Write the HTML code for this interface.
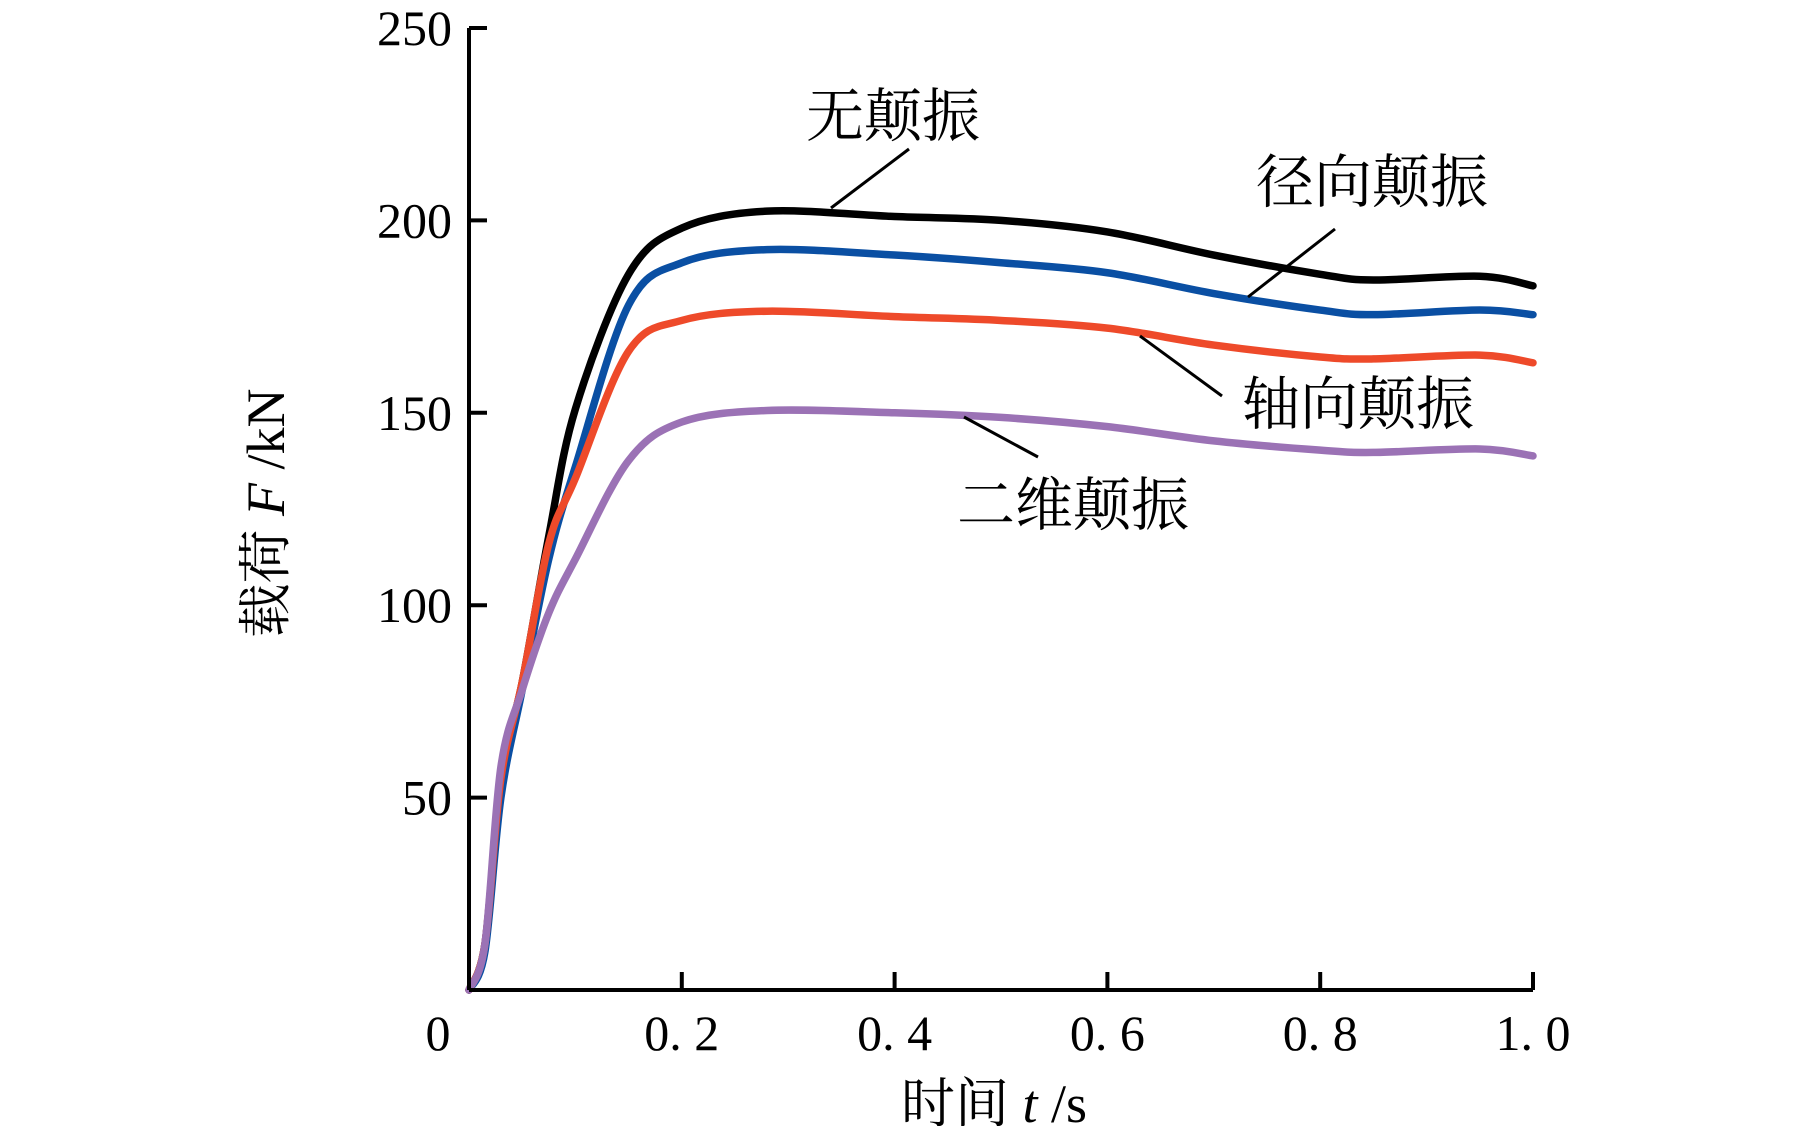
<!DOCTYPE html>
<html><head><meta charset="utf-8"><style>
html,body{margin:0;padding:0;background:#fff;}
svg{display:block;}
</style></head><body>
<svg id="chart" width="1819" height="1126" viewBox="0 0 1819 1126" xmlns="http://www.w3.org/2000/svg" font-family="'Liberation Serif','Noto Serif CJK SC',serif">
<g id="lines"></g>
<g id="axes"></g>
<g id="annot"></g>
</svg>
<script>
const times=[0,0.015,0.03,0.05,0.075,0.1,0.15,0.2,0.28,0.4,0.5,0.6,0.7,0.8,0.85,0.95,1.0];
const seriesNone=[0,12,55,80,118,151,186,198,202.4,201,200,197,191,186,184.5,185.5,183];
const seriesRadial=[0,10,50,78,112,136,178,189,192.4,191,189,186.4,181,176.7,175.5,176.7,175.5];
const seriesAxial=[0,12,55,80,116,133,166,174,176.4,175,174,172,167.6,164.5,164,165,163];
const series2D=[0,12,58,78,98,112,137.6,147.6,150.6,150,148.8,146.4,142.7,140.3,139.7,140.6,138.8];
const xTicks=[0,0.2,0.4,0.6,0.8,1.0];
const xTickLabels=["0","0. 2","0. 4","0. 6","0. 8","1. 0"];
const yTicks=[50,100,150,200,250];
const yTickLabels=["50","100","150","200","250"];
const NS="http://www.w3.org/2000/svg";
const X0=469,X1=1533,Y0=990,Y1=28;
const xs=t=>X0+(X1-X0)*t/1.0;
const ys=v=>Y0-(Y0-Y1)*v/250;
function mk(tag,attrs,parent){const e=document.createElementNS(NS,tag);for(const k in attrs)e.setAttribute(k,attrs[k]);parent.appendChild(e);return e;}
function pathFrom(vals){
  const p=times.map((t,i)=>[xs(t),ys(vals[i])]);
  let d="M"+p[0][0]+","+p[0][1];
  for(let i=0;i<p.length-1;i++){
    const a=p[Math.max(i-1,0)],b=p[i],c=p[i+1],e=p[Math.min(i+2,p.length-1)];
    const c1=[b[0]+(c[0]-a[0])/6,b[1]+(c[1]-a[1])/6];
    const c2=[c[0]-(e[0]-b[0])/6,c[1]-(e[1]-b[1])/6];
    d+=" C"+c1[0]+","+c1[1]+" "+c2[0]+","+c2[1]+" "+c[0]+","+c[1];
  }
  return d;
}
const lines=document.getElementById('lines');
const defs=[[seriesNone,'#000000','line-no-chatter'],[seriesRadial,'#0a4fa3','line-radial-chatter'],[seriesAxial,'#ee4a2a','line-axial-chatter'],[series2D,'#9b72b5','line-2d-chatter']];
defs.forEach(([v,c,n])=>{
  const el=mk('path',{d:pathFrom(v),fill:'none',stroke:c,'stroke-width':7.5,'stroke-linecap':'round','stroke-linejoin':'round'},lines);
  
  
});
const axes=document.getElementById('axes');
let a=mk('line',{x1:X0,y1:Y0,x2:X1,y2:Y0,stroke:'#000','stroke-width':4},axes);


a=mk('line',{x1:X0,y1:Y0,x2:X0,y2:Y1,stroke:'#000','stroke-width':4},axes);


xTicks.forEach((t,i)=>{
  if(t>0){const tk=mk('line',{x1:xs(t),y1:Y0,x2:xs(t),y2:Y0-18,stroke:'#000','stroke-width':4},axes);
  
  }
  const tx=mk('text',{x:i==0?438:xs(t),y:1050,'font-size':50,'text-anchor':'middle'},axes);
  tx.textContent=xTickLabels[i];
  
  
});
yTicks.forEach((v,i)=>{
  const tk=mk('line',{x1:X0,y1:ys(v),x2:X0+18,y2:ys(v),stroke:'#000','stroke-width':4},axes);
  
  
  const tx=mk('text',{x:452,y:ys(v)+17,'font-size':50,'text-anchor':'end'},axes);
  tx.textContent=yTickLabels[i];
  
  
});
let xt=mk('text',{x:994,y:1122,'font-size':54,'text-anchor':'middle'},axes);
xt.innerHTML='时间 <tspan font-style="italic">t</tspan> /s';


let yt=mk('text',{x:0,y:0,'font-size':54,'text-anchor':'middle',transform:'translate(284,513) rotate(-90)'},axes);
yt.innerHTML='载荷 <tspan font-style="italic">F</tspan> /kN';


const an=document.getElementById('annot');
const labels=[['无颠振',893,136,[831,208,909,149],'label-no-chatter'],['径向颠振',1372,202,[1248,297,1335,229],'label-radial-chatter'],['轴向颠振',1358,424,[1140,336,1222,396],'label-axial-chatter'],['二维颠振',1073,525,[964,417,1038,457],'label-2d-chatter']];
labels.forEach(([s,x,y,l,n])=>{
  const t=mk('text',{x:x,y:y,'font-size':58,'text-anchor':'middle','font-family':"'Noto Serif CJK SC','Noto Sans CJK SC',serif"},an);
  t.textContent=s;
  
  
  const ln=mk('line',{x1:l[0],y1:l[1],x2:l[2],y2:l[3],stroke:'#000','stroke-width':3},an);
  
  
});
</script>
</body></html>
